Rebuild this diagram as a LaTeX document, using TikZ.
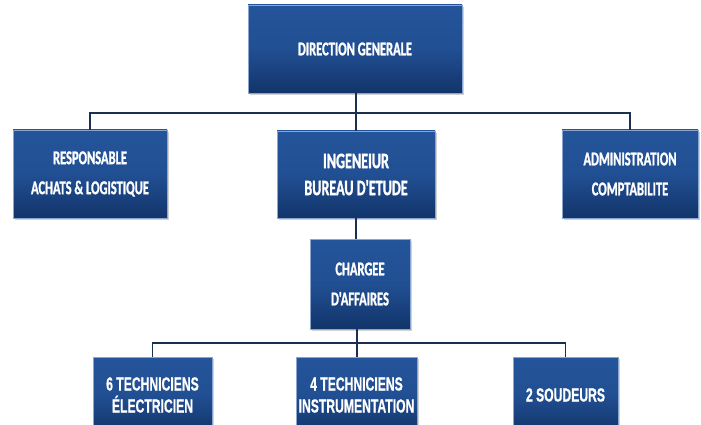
\documentclass[tikz,border=0pt]{standalone}
\usepackage{fontspec}
\newfontfamily\boxfont[FakeStretch=0.64,BoldFeatures={FakeBold=1.2}]{Carlito}
\newfontfamily\narrowfont[FakeStretch=0.64,BoldFeatures={FakeBold=0.6}]{Liberation Sans}
\usetikzlibrary{shadows}
\definecolor{boxtop}{HTML}{24549A}
\definecolor{boxbot}{HTML}{12346A}
\definecolor{boxedge}{HTML}{8AA6CF}
\definecolor{wire}{HTML}{1B3050}
\tikzset{
  box/.style={rectangle, draw=boxedge, line width=0.8pt,
    top color=boxtop, bottom color=boxbot, middle color=boxtop!85!boxbot,
    text=white, align=center, inner sep=2pt,
    drop shadow={shadow xshift=2pt, shadow yshift=-2pt, fill=black!35, opacity=0.5}},
  topfont/.style={font=\boxfont\bfseries\fontsize{19.5}{30}\selectfont},
  midfont/.style={font=\boxfont\bfseries\fontsize{22}{27}\selectfont},
  lowfont/.style={font=\narrowfont\bfseries\fontsize{19}{22}\selectfont},
  wire/.style={draw=wire, line width=1.6pt},
}
\begin{document}
\begin{tikzpicture}[x=1pt,y=-1pt]
\useasboundingbox (0,0) rectangle (701,425);
\node[box, topfont, minimum width=214pt, minimum height=88pt] (dg) at (355,49) {DIRECTION GENERALE};
\node[box, topfont, minimum width=154pt, minimum height=88pt] (resp) at (90,174) {RESPONSABLE\\ACHATS \& LOGISTIQUE};
\node[box, midfont, minimum width=158pt, minimum height=87pt] (ing) at (356,174.5) {INGENEIUR\\BUREAU D'ETUDE};
\node[box, topfont, minimum width=136pt, minimum height=88pt] (adm) at (630,174) {ADMINISTRATION\\COMPTABILITE};
\node[box, topfont, minimum width=100pt, minimum height=90pt] (ch) at (360,284) {CHARGEE\\D'AFFAIRES};
\node[box, lowfont, minimum width=119pt, minimum height=76pt] (t6) at (152.5,395) {6 TECHNICIENS\\ÉLECTRICIEN};
\node[box, lowfont, minimum width=121pt, minimum height=76pt] (t4) at (356.5,395) {4 TECHNICIENS\\INSTRUMENTATION};
\node[box, lowfont, minimum width=105pt, minimum height=76pt] (sd) at (565.5,395) {2 SOUDEURS};

\coordinate (j1) at (356,113);
\coordinate (j2) at (357,343);
\begin{scope}[on background layer/.try]
\draw[wire] (dg.south -| j1) -- (j1);
\draw[wire] (resp.north) |- (j1) -| (adm.north);
\draw[wire] (j1) -- (ing.north -| j1);
\draw[wire] (ing.south -| j1) -- (ch.north -| j1);
\draw[wire] (ch.south -| j2) -- (j2);
\draw[wire] (t6.north) |- (j2) -| (sd.north);
\draw[wire] (j2) -- (t4.north -| j2);
\end{scope}
\end{tikzpicture}
\end{document}
